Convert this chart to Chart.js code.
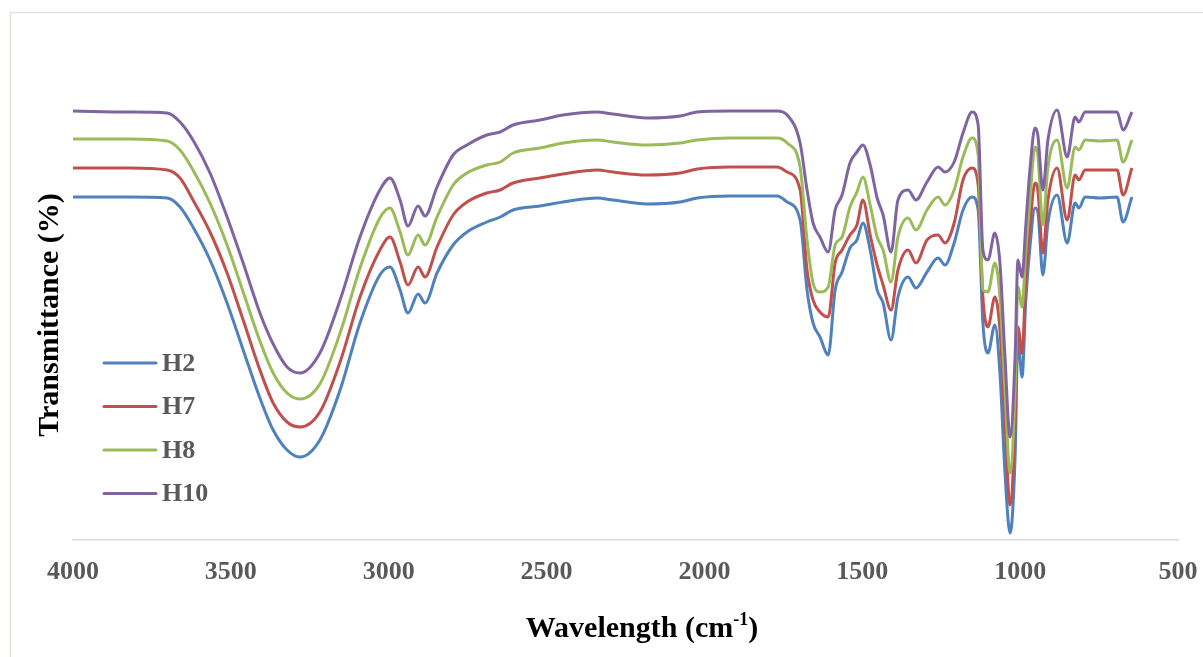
<!DOCTYPE html>
<html lang="en">
<head>
    <meta charset="UTF-8">
    <title>FTIR spectra H2 H7 H8 H10</title>
    <script src="https://cdn.jsdelivr.net/npm/chart.js"></script>
    <style>
        body {
            margin: 0;
            padding: 0;
            background-color: #fff;
        }

        #chart-container {
            width: 1203px;
            height: 657px;
            position: relative;
        }
    </style>
</head>
<body>
    <div id="chart-container">
        <canvas id="ftirChart"></canvas>
    </div>

    <script>
        // wavenumber (cm-1) of each reading, from left to right
        const wavenumbers = [4000, 3820, 3702, 3661, 3620, 3566, 3512, 3461, 3408, 3366, 3322, 3281, 3218, 3154, 3091, 3028, 2996, 2964, 2939, 2907, 2885, 2847, 2796, 2752, 2689, 2647, 2606, 2521, 2448, 2340, 2290, 2182, 2077, 2023, 1919, 1770, 1738, 1697, 1675, 1656, 1634, 1608, 1586, 1564, 1539, 1517, 1498, 1475, 1453, 1434, 1409, 1387, 1355, 1330, 1295, 1260, 1238, 1209, 1181, 1152, 1133, 1118, 1102, 1080, 1064, 1048, 1032, 1016, 1007, 994, 982, 969, 953, 944, 928, 912, 883, 851, 826, 814, 794, 747, 693, 674, 646];

        const h2 = [68.6, 68.6, 68.4, 66.6, 62.6, 56.0, 47.4, 38.0, 28.4, 22.0, 18.0, 16.6, 20.0, 30.0, 43.4, 53.0, 54.6, 50.0, 45.4, 49.2, 47.4, 53.4, 59.0, 61.6, 63.6, 64.6, 66.0, 66.8, 67.6, 68.4, 68.0, 67.2, 67.6, 68.4, 68.8, 68.8, 67.6, 64.0, 50.0, 43.4, 40.6, 37.0, 50.0, 53.6, 58.4, 60.0, 63.4, 58.0, 50.0, 47.4, 40.0, 48.6, 52.6, 50.4, 53.6, 56.4, 55.0, 59.4, 66.0, 68.6, 66.0, 43.4, 37.4, 43.0, 33.4, 13.4, 1.4, 16.6, 40.6, 32.6, 48.0, 58.6, 66.4, 65.6, 53.0, 63.4, 69.0, 59.4, 67.4, 66.4, 68.6, 68.4, 68.6, 63.6, 68.6];

        const h7 = [74.4, 74.4, 74.0, 72.4, 68.0, 61.6, 53.4, 44.0, 34.0, 27.4, 23.6, 22.6, 25.6, 35.6, 48.6, 58.0, 60.6, 55.6, 51.0, 54.6, 52.6, 58.6, 65.0, 67.6, 69.4, 70.0, 71.4, 72.4, 73.2, 74.0, 73.6, 73.0, 73.4, 74.2, 74.6, 74.6, 73.6, 70.0, 54.0, 48.0, 45.6, 44.6, 55.4, 58.0, 61.0, 63.0, 68.0, 61.0, 55.0, 51.0, 46.0, 54.0, 58.0, 55.4, 60.0, 61.0, 59.4, 63.4, 72.0, 74.4, 71.0, 48.6, 42.6, 48.6, 42.0, 23.4, 7.0, 23.4, 42.6, 37.4, 52.0, 62.6, 71.4, 70.0, 57.4, 68.0, 74.4, 64.0, 73.0, 72.0, 74.0, 74.0, 74.0, 69.0, 74.4];

        const h8 = [80.2, 80.2, 79.8, 78.0, 74.0, 67.4, 59.0, 49.6, 39.8, 33.4, 29.4, 28.2, 31.2, 41.4, 54.4, 64.4, 66.4, 61.6, 57.0, 61.0, 59.0, 64.6, 71.0, 73.4, 75.0, 75.6, 77.4, 78.4, 79.4, 80.0, 79.6, 79.0, 79.4, 80.0, 80.4, 80.4, 79.4, 74.6, 60.0, 51.4, 49.6, 50.6, 59.0, 60.6, 66.6, 69.6, 72.6, 67.0, 60.6, 58.0, 51.6, 60.6, 64.4, 62.0, 66.0, 68.6, 67.0, 70.0, 76.6, 80.4, 77.0, 50.0, 49.6, 55.4, 48.6, 30.0, 13.4, 30.0, 50.6, 46.6, 58.0, 68.0, 78.6, 77.0, 63.0, 74.6, 80.0, 70.4, 78.6, 78.0, 80.0, 79.8, 80.0, 75.6, 80.0];

        const h10 = [85.8, 85.6, 85.4, 83.6, 80.0, 73.4, 64.6, 55.4, 45.4, 39.2, 34.6, 33.4, 37.4, 48.0, 60.6, 70.0, 72.4, 68.0, 62.8, 66.8, 64.8, 70.6, 77.0, 79.0, 81.0, 81.6, 83.0, 84.0, 85.0, 85.6, 85.2, 84.4, 84.8, 85.6, 85.8, 85.8, 85.0, 79.4, 70.0, 63.4, 60.6, 57.6, 66.0, 69.0, 75.4, 77.6, 79.0, 75.0, 68.4, 65.0, 57.6, 68.0, 70.0, 68.0, 71.6, 74.6, 73.6, 75.6, 81.4, 85.6, 83.0, 58.0, 56.0, 61.4, 55.4, 36.6, 20.6, 36.6, 56.0, 52.6, 63.0, 74.0, 82.4, 81.0, 70.0, 80.0, 86.0, 76.6, 84.6, 83.6, 85.6, 85.6, 85.6, 82.0, 85.6];

        const seriesNames = ["H2", "H7", "H8", "H10"];
        const seriesColors = ["#4f81bd", "#c0504d", "#9bbb59", "#8064a2"];
        const xTicks = [4000, 3500, 3000, 2500, 2000, 1500, 1000, 500];

        // x title is "Wavelength (cm" + superscript "-1" + ")"
        const xTitleParts = ["Wavelength (cm", "-1", ")"];

        const serif = "'Liberation Serif', 'Times New Roman', serif";

        function toPoints(values) {
            return wavenumbers.map((w, i) => ({ x: w, y: values[i] }));
        }

        // thin frame around the whole chart, like the office chart area
        const framePlugin = {
            id: "frame",
            beforeDraw(chart) {
                const ctx = chart.ctx;
                ctx.save();
                ctx.fillStyle = "#fff";
                ctx.fillRect(0, 0, chart.width, chart.height);
                ctx.strokeStyle = "#e3e3d7";
                ctx.lineWidth = 1.5;
                ctx.strokeRect(10.5, 12.5, chart.width + 20, chart.height + 20);
                ctx.restore();
            }
        };

        // x axis title with a real superscript
        const xTitlePlugin = {
            id: "xTitle",
            afterDraw(chart) {
                const ctx = chart.ctx;
                const main = "bold 30px " + serif;
                const sup = "bold 18px " + serif;
                const fonts = [main, sup, main];
                const lift = [0, -12, 0];
                ctx.save();
                ctx.fillStyle = "#000";
                ctx.textBaseline = "alphabetic";
                let total = 0;
                const widths = xTitleParts.map((t, i) => {
                    ctx.font = fonts[i];
                    const w = ctx.measureText(t).width;
                    total += w;
                    return w;
                });
                let x = 642 - total / 2;
                xTitleParts.forEach((t, i) => {
                    ctx.font = fonts[i];
                    ctx.fillText(t, x, 637 + lift[i]);
                    x += widths[i];
                });
                ctx.restore();
            }
        };

        // legend sitting inside the plot, bottom left
        const insideLegend = {
            id: "insideLegend",
            afterDraw(chart) {
                const ctx = chart.ctx;
                ctx.save();
                chart.data.datasets.forEach((ds, i) => {
                    const y = 363 + i * 43.5;
                    ctx.strokeStyle = ds.borderColor;
                    ctx.lineWidth = 3;
                    ctx.lineCap = "round";
                    ctx.beginPath();
                    ctx.moveTo(104, y);
                    ctx.lineTo(156, y);
                    ctx.stroke();
                    ctx.fillStyle = "#595959";
                    ctx.font = "bold 26px " + serif;
                    ctx.textBaseline = "middle";
                    ctx.fillText(ds.label, 162, y + 1);
                });
                ctx.restore();
            }
        };

        const datasets = [h2, h7, h8, h10].map((values, i) => ({
            label: seriesNames[i],
            data: toPoints(values),
            borderColor: seriesColors[i],
            backgroundColor: seriesColors[i],
            borderWidth: 3,
            pointRadius: 0,
            fill: false,
            cubicInterpolationMode: "monotone",
            order: 3 - i
        }));

        const ctx = document.getElementById("ftirChart").getContext("2d");
        new Chart(ctx, {
            type: "line",
            data: { datasets: datasets },
            options: {
                responsive: true,
                maintainAspectRatio: false,
                animation: false,
                layout: {
                    padding: { top: 90, left: 20, right: 25, bottom: 0 }
                },
                plugins: {
                    legend: { display: false },
                    tooltip: { enabled: false }
                },
                scales: {
                    x: {
                        type: "linear",
                        reverse: true,
                        min: 500,
                        max: 4000,
                        afterBuildTicks: (scale) => {
                            scale.ticks = xTicks.map(v => ({ value: v }));
                        },
                        afterFit: (scale) => {
                            scale.paddingLeft = 0;
                            scale.paddingRight = 0;
                            scale.height = 117;
                        },
                        grid: { display: false, drawTicks: false },
                        border: { display: true, color: "#d9d9d9", width: 1.5 },
                        ticks: {
                            padding: 17,
                            maxRotation: 0,
                            autoSkip: false,
                            color: "#595959",
                            font: { family: serif, size: 26, weight: "bold" },
                            callback: (value) => String(value)
                        },
                        title: { display: false }
                    },
                    y: {
                        min: 0,
                        max: 90,
                        grid: { display: false, drawTicks: false },
                        border: { display: false },
                        ticks: { display: false },
                        title: {
                            display: true,
                            text: "Transmittance (%)",
                            color: "#000",
                            font: { family: serif, size: 30, weight: "bold" },
                            padding: { top: 12, bottom: 0 }
                        },
                        afterFit: (scale) => {
                            scale.width = 53;
                        }
                    }
                }
            },
            plugins: [framePlugin, xTitlePlugin, insideLegend]
        });
    </script>
</body>
</html>
